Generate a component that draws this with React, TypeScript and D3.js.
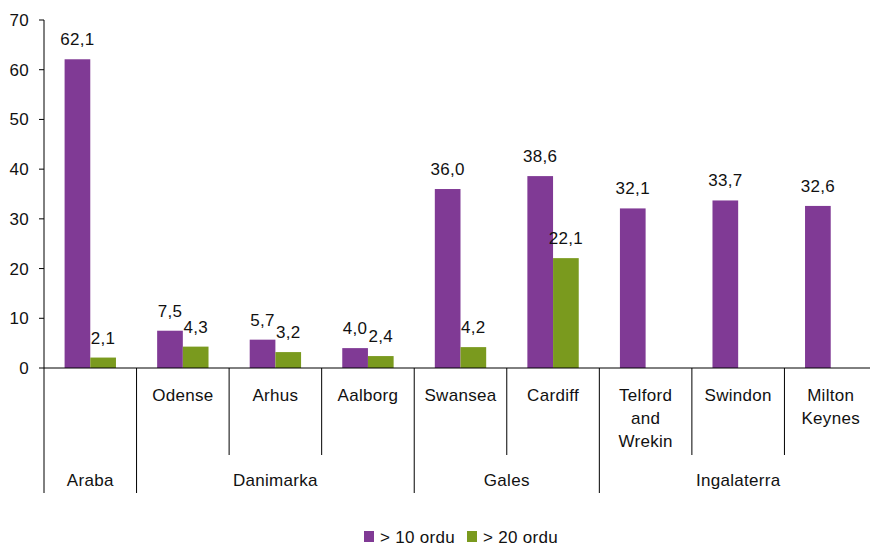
import React from "react";
import * as d3 from "d3";

const cities = ["Araba", "Odense", "Arhus", "Aalborg", "Swansea", "Cardiff", "Telford and Wrekin", "Swindon", "Milton Keynes"];
const regions = ["Araba", "Danimarka", "Gales", "Ingalaterra"];
const regionOfCity = ["Araba", "Danimarka", "Danimarka", "Danimarka", "Gales", "Gales", "Ingalaterra", "Ingalaterra", "Ingalaterra"];
const over10: (number | null)[] = [62.1, 7.5, 5.7, 4.0, 36.0, 38.6, 32.1, 33.7, 32.6];
const over20: (number | null)[] = [2.1, 4.3, 3.2, 2.4, 4.2, 22.1, null, null, null];
const seriesNames = ["> 10 ordu", "> 20 ordu"];
const yTicks = [0, 10, 20, 30, 40, 50, 60, 70];

const W = 870;
const H = 545;
const left = 44;
const right = 877;
const top = 20;
const zeroY = 368;
const colors = ["#803A95", "#7A9A1E"];
const font = "'Liberation Sans', Arial, sans-serif";
const fs = 17;
const ls = 0.3;

export default function App() {
  const y = d3.scaleLinear().domain([0, 70]).range([zeroY, top]);
  const x = d3.scaleBand<string>().domain(cities).range([left, right]).paddingInner(0).paddingOuter(0);
  const bw = x.bandwidth();
  const barW = bw * 0.2775;
  const fmt = (v: number) => v.toFixed(1).replace(".", ",");

  const series = [over10, over20];

  // long separators between regions, short ones between cities of a region
  const boundaries: { xPos: number; long: boolean }[] = [];
  cities.forEach((c, i) => {
    if (i === 0) return;
    const long = regionOfCity[i] !== regionOfCity[i - 1];
    boundaries.push({ xPos: x(c)!, long });
  });

  const regionSpans = regions.map((r) => {
    const idx = cities.map((_, i) => i).filter((i) => regionOfCity[i] === r);
    const x0 = x(cities[idx[0]])!;
    const x1 = x(cities[idx[idx.length - 1]])! + bw;
    return { r, cx: (x0 + x1) / 2 };
  });

  return (
    <svg width={W} height={H} style={{ position: "absolute", left: 0, top: 0, background: "#fff" }} fontFamily={font} letterSpacing={ls}>
      {/* bars */}
      {series.map((vals, s) =>
        vals.map((v, i) => {
          if (v == null) return null;
          const bx = x(cities[i])! + bw / 2 - barW + s * barW;
          return (
            <g key={`${s}-${i}`}>
              <rect x={bx} y={y(v)} width={barW} height={zeroY - y(v)} fill={colors[s]} />
              <text x={bx + barW / 2} y={y(v) - 14} textAnchor="middle" fontSize={fs} fill="#111">
                {fmt(v)}
              </text>
            </g>
          );
        })
      )}

      {/* y axis */}
      <line x1={left} x2={left} y1={top} y2={493} stroke="#000" strokeWidth={1} />
      {yTicks.map((t) => (
        <g key={t}>
          <line x1={left - 5} x2={left} y1={y(t)} y2={y(t)} stroke="#000" />
          <text x={left - 15} y={y(t)} dy="0.35em" textAnchor="end" fontSize={fs} fill="#111">
            {t}
          </text>
        </g>
      ))}

      {/* x axis */}
      <line x1={left} x2={W} y1={zeroY} y2={zeroY} stroke="#000" />
      {boundaries.map((b, i) => (
        <line key={i} x1={b.xPos} x2={b.xPos} y1={zeroY} y2={b.long ? 493 : 455} stroke="#000" strokeWidth={1} />
      ))}

      {/* city labels */}
      {cities.map((c, i) => {
        if (regionOfCity[i] === c) return null;
        const words = c === "Telford and Wrekin" ? ["Telford", "and", "Wrekin"] : c === "Milton Keynes" ? ["Milton", "Keynes"] : [c];
        return (
          <text key={c} x={x(c)! + bw / 2} y={401} textAnchor="middle" fontSize={fs} fill="#111">
            {words.map((w, k) => (
              <tspan key={k} x={x(c)! + bw / 2} dy={k === 0 ? 0 : 23}>
                {w}
              </tspan>
            ))}
          </text>
        );
      })}

      {/* region labels */}
      {regionSpans.map((r) => (
        <text key={r.r} x={r.cx} y={486} textAnchor="middle" fontSize={fs} fill="#111">
          {r.r}
        </text>
      ))}

      {/* legend */}
      {seriesNames.map((n, i) => {
        const lx = i === 0 ? 364 : 467;
        return (
          <g key={n}>
            <rect x={lx} y={531} width={10} height={11} fill={colors[i]} />
            <text x={lx + 16} y={542.5} fontSize={fs} fill="#111">
              {n}
            </text>
          </g>
        );
      })}
    </svg>
  );
}
